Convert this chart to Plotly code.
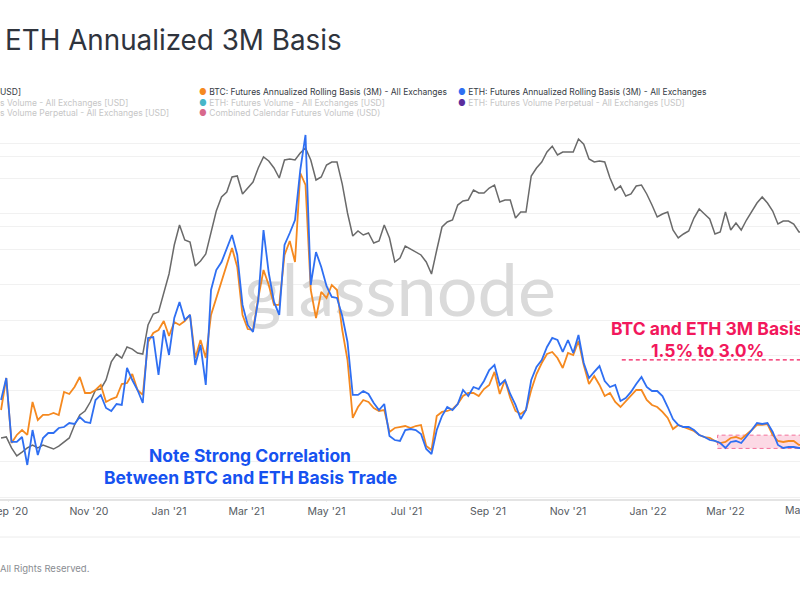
import pandas as pd
import plotly.graph_objects as go

# ---------------- data ----------------
START_DATE = "2020-08-26"
STEP = "4D"

btc_price = [
    11720, 11790, 11060, 10560, 10800, 11060, 11250, 11060, 11250, 11120,
    10990, 11180, 11450, 11720, 12630, 13390, 13700, 14430, 15470, 15560,
    16400, 18200, 19050, 18610, 19840, 19610, 19160, 19050, 22540, 24030,
    24320, 27130, 30290, 35830, 40240, 36890, 36460, 31730, 32660, 34010,
    38630, 43630, 47320, 48710, 53130, 53440, 48150, 49850, 51610, 55970,
    59650, 58290, 55970, 52820, 58630, 58970, 58630, 61050, 62840, 58630,
    52210, 53130, 56950, 57950, 57950, 51000, 43130, 37750, 38860, 37970,
    38410, 36250, 36680, 40240, 37320, 32470, 33230, 35620, 35010, 34410,
    33820, 32470, 30290, 34810, 39770, 40940, 41410, 45160, 46240, 46510,
    49280, 48430, 48430, 49850, 50720, 45970, 46510, 46510, 41890, 43370,
    43370, 53440, 55970, 57950, 61400, 63510, 60350, 61400, 61400, 61400,
    66190, 64260, 58970, 57950, 58290, 57950, 52820, 49280, 50430, 47590,
    48150, 50430, 50720, 48150, 45160, 42140, 42880, 43370, 39080, 37320,
    38190, 38860, 41890, 44130, 42880, 41650, 38190, 38630, 43370, 39080,
    40710, 39080, 41410, 43370, 45700, 47320, 45700, 43630, 40470, 41170,
    41170, 40470, 38630, 38630,
]

btc_basis = [
    5.84, 9.46, 2.11, 3.02, 3.58, 3.02, 6.75, 4.71, 5.28, 5.28,
    5.50, 5.28, 7.88, 7.65, 8.44, 9.57, 7.76, 7.76, 8.10, 8.67,
    6.75, 7.08, 7.31, 8.78, 8.89, 9.91, 8.10, 7.54, 13.53, 14.54,
    14.88, 15.90, 14.20, 15.79, 15.45, 15.90, 16.58, 11.72, 13.75, 11.72,
    16.58, 18.50, 20.42, 22.23, 24.15, 22.00, 16.58, 14.99, 14.88, 18.50,
    21.66, 19.97, 17.71, 17.71, 23.36, 24.94, 22.56, 32.62, 31.27, 19.40,
    16.24, 19.18, 18.50, 19.97, 19.40, 14.88, 11.49, 4.94, 6.18, 6.97,
    6.75, 6.07, 5.73, 5.84, 3.36, 3.81, 3.92, 4.03, 3.81, 4.03,
    4.15, 1.77, 1.32, 5.16, 5.62, 5.73, 5.95, 6.52, 7.42, 7.76,
    7.76, 7.42, 8.21, 8.67, 10.14, 7.65, 9.23, 7.20, 5.73, 5.39,
    5.84, 8.10, 9.91, 11.15, 12.17, 12.40, 11.72, 10.59, 12.28, 12.06,
    13.64, 10.93, 8.78, 9.68, 8.67, 7.42, 7.76, 6.75, 6.18, 6.86,
    7.42, 8.10, 8.10, 6.97, 6.41, 6.18, 5.62, 4.94, 3.69, 4.15,
    3.92, 3.69, 3.47, 3.02, 2.79, 2.68, 2.34, 2.11, 2.23, 2.68,
    2.79, 2.56, 3.02, 3.58, 4.15, 4.15, 4.26, 3.02, 2.34, 2.23,
    2.34, 2.34, 1.89, 1.89,
]

eth_basis = [
    6.97, 9.46, 2.23, 2.23, 2.79, -0.37, 3.58, 0.76, 2.68, 3.24,
    3.24, 3.81, 3.92, 4.37, 4.26, 5.05, 4.49, 4.37, 6.97, 7.54,
    6.07, 5.73, 6.52, 6.41, 10.59, 9.23, 8.10, 6.63, 13.98, 14.09,
    9.80, 14.88, 12.06, 16.24, 18.05, 16.01, 16.58, 10.93, 13.19, 8.67,
    19.40, 21.66, 22.56, 24.15, 25.62, 23.36, 17.71, 15.45, 14.66, 18.27,
    26.18, 21.32, 18.05, 16.58, 24.49, 25.84, 27.31, 32.96, 36.92, 19.97,
    23.69, 22.00, 19.85, 18.61, 18.50, 16.46, 13.53, 7.54, 7.54, 7.99,
    7.65, 6.63, 5.84, 6.52, 2.90, 2.45, 2.34, 3.58, 3.69, 3.58,
    3.13, 1.44, 0.87, 3.58, 5.16, 6.18, 5.84, 6.52, 8.10, 7.42,
    8.44, 8.21, 9.12, 10.36, 10.93, 8.67, 9.23, 7.65, 6.41, 4.82,
    5.84, 9.23, 10.70, 11.49, 12.96, 13.98, 13.75, 12.40, 13.75, 12.28,
    14.32, 11.15, 9.46, 10.14, 10.81, 9.12, 8.44, 8.67, 6.86, 7.20,
    7.88, 8.78, 9.57, 8.44, 7.99, 7.99, 7.42, 6.18, 4.82, 4.15,
    3.92, 3.92, 3.58, 3.02, 2.79, 2.45, 2.34, 2.11, 1.55, 2.23,
    2.34, 2.11, 2.79, 3.58, 4.37, 4.26, 4.37, 3.36, 1.89, 1.55,
    1.66, 1.66, 1.55, 1.55,
]

tick_dates = ["2020-09-01", "2020-11-01", "2021-01-01", "2021-03-01",
              "2021-05-01", "2021-07-01", "2021-09-01", "2021-11-01",
              "2022-01-01", "2022-03-01"]
tick_labels = ["Sep '20", "Nov '20", "Jan '21", "Mar '21", "May '21",
               "Jul '21", "Sep '21", "Nov '21", "Jan '22", "Mar '22"]
extra_tick_label = "May '22"

band_low, band_high = 1.5, 3.0          # highlighted basis band (%)
band_start = "2022-02-23"
dash_line_level = 11.5                  # dashed guide under the pink note
dash_line_start = "2021-12-12"
shape_end = "2022-05-20"

dates = pd.date_range(START_DATE, periods=len(btc_price), freq=STEP)

# ---------------- layout helpers ----------------
W, H = 800, 600
PLOT_TOP, PLOT_BOTTOM = 120, 499
X_RANGE = ["2020-08-25 05:00", "2022-04-26 19:00"]
PRICE_RANGE = [3.9153, 4.8687]   # log10 USD
BASIS_RANGE = [-4.215, 38.61]    # %


def yp(py):
    return (PLOT_BOTTOM - py) / (PLOT_BOTTOM - PLOT_TOP)


def xp(px):
    return px / W


FONT = "Inter, 'Noto Sans', Arial, sans-serif"
ORANGE = "#f5891f"
BLUE = "#2f6ff2"
GRAY = "#6a6a6a"
PINK = "#f2185c"
NOTE_BLUE = "#1652f0"
DARK = "#363b44"
LIGHT = "#c6c6c6"

fig = go.Figure()

# watermark, drawn beneath the lines
wm_date = pd.Timestamp(X_RANGE[0]) + (pd.Timestamp(X_RANGE[1]) - pd.Timestamp(X_RANGE[0])) * 0.5
wm_val = 10 ** (PRICE_RANGE[0] + (PRICE_RANGE[1] - PRICE_RANGE[0]) * yp(298))
fig.add_trace(go.Scatter(
    x=[wm_date], y=[wm_val], mode="text", text=["glassnode"],
    textfont=dict(size=72, color="#dadada", family="Lato, Inter, sans-serif"),
    yaxis="y", hoverinfo="skip", showlegend=False))

fig.add_trace(go.Scatter(
    x=dates, y=btc_price, mode="lines", name="BTC: Price [USD]",
    line=dict(color=GRAY, width=1.5), yaxis="y"))

fig.add_trace(go.Scatter(
    x=dates, y=btc_basis, mode="lines",
    name="BTC: Futures Annualized Rolling Basis (3M) - All Exchanges",
    line=dict(color=ORANGE, width=1.8), yaxis="y2"))

fig.add_trace(go.Scatter(
    x=dates, y=eth_basis, mode="lines",
    name="ETH: Futures Annualized Rolling Basis (3M) - All Exchanges",
    line=dict(color=BLUE, width=1.8), yaxis="y2"))

shapes = [
    dict(type="rect", xref="x", yref="y2", x0=band_start, x1=shape_end,
         y0=band_low, y1=band_high, fillcolor="rgba(246,120,160,0.28)",
         line=dict(color="#f4709a", width=1, dash="4px,3px"), layer="below"),
    dict(type="line", xref="x", yref="y2", x0=dash_line_start, x1=shape_end,
         y0=dash_line_level, y1=dash_line_level,
         line=dict(color=PINK, width=1.2, dash="4px,3px")),
    dict(type="line", xref="paper", yref="paper", x0=0, x1=1,
         y0=yp(537), y1=yp(537), line=dict(color="#ececec", width=1)),
]

ann = []
# title
ann.append(dict(text="ETH Annualized 3M Basis", x=xp(3), y=yp(40),
                xanchor="left", yanchor="middle",
                font=dict(size=27.8, color="#2f343d", family=FONT)))


def legend_item(text, px, py, dot=None, color=DARK):
    if dot:
        t = f'<span style="color:{dot}">●</span> {text}'
    else:
        t = text
    ann.append(dict(text=t, x=xp(px), y=yp(py), xanchor="left",
                    yanchor="middle", font=dict(size=8.5, color=color, family=FONT)))


legend_item("USD]", -2, 92)
legend_item("BTC: Futures Annualized Rolling Basis (3M) - All Exchanges", 197, 92, ORANGE)
legend_item("ETH: Futures Annualized Rolling Basis (3M) - All Exchanges", 456, 92, BLUE)
legend_item("s Volume - All Exchanges [USD]", -2, 103, color=LIGHT)
legend_item("ETH: Futures Volume - All Exchanges [USD]", 197, 103, "#48b6c8", LIGHT)
legend_item("ETH: Futures Volume Perpetual - All Exchanges [USD]", 456, 103, "#5a2d9c", LIGHT)
legend_item("s Volume Perpetual - All Exchanges [USD]", -2, 113, color=LIGHT)
legend_item("Combined Calendar Futures Volume (USD)", 197, 113, "#d8698c", LIGHT)

# notes
for txt, py in [("Note Strong Correlation", 455), ("Between BTC and ETH Basis Trade", 477)]:
    ann.append(dict(text=f"<b>{txt}</b>", x=xp(250), y=yp(py), xanchor="center",
                    yanchor="middle", font=dict(size=17.5, color=NOTE_BLUE, family=FONT)))
for txt, py in [("BTC and ETH 3M Basis", 328), ("1.5% to 3.0%", 350)]:
    ann.append(dict(text=f"<b>{txt}</b>", x=xp(707), y=yp(py), xanchor="center",
                    yanchor="middle", font=dict(size=17.5, color=PINK, family=FONT)))

# partially visible last tick label
ann.append(dict(text=extra_tick_label, x=xp(805), y=yp(510), xanchor="center",
                yanchor="middle", font=dict(size=10.5, color="#555a61", family=FONT)))
# footer
ann.append(dict(text="All Rights Reserved.", x=xp(-2), y=yp(568), xanchor="left",
                yanchor="middle", font=dict(size=9.5, color="#8a8d92", family=FONT)))

for a in ann:
    a.setdefault("xref", "paper")
    a.setdefault("yref", "paper")
    a.setdefault("showarrow", False)

fig.update_layout(
    width=W, height=H,
    margin=dict(l=0, r=0, t=PLOT_TOP, b=H - PLOT_BOTTOM, autoexpand=False),
    paper_bgcolor="white", plot_bgcolor="white",
    showlegend=False, hovermode=False,
    font=dict(family=FONT),
    xaxis=dict(range=X_RANGE, tickvals=tick_dates, ticktext=tick_labels,
               showgrid=False, showline=True, linecolor="#e4e4e4", linewidth=2,
               ticks="outside", ticklen=1, tickcolor="#eeeeee",
               ticklabeloverflow="allow",
               tickfont=dict(size=10.5, color="#555a61", family=FONT),
               zeroline=False, automargin=False),
    yaxis=dict(type="log", range=PRICE_RANGE, tickvals=[40000, 60000],
               showticklabels=False, showgrid=True, gridcolor="#f1f1f1",
               zeroline=False, automargin=False),
    yaxis2=dict(overlaying="y", side="right", range=BASIS_RANGE, tick0=0, dtick=4,
                showticklabels=False, showgrid=True, gridcolor="#f1f1f1",
                zeroline=False, automargin=False),
    shapes=shapes,
    annotations=ann,
)

fig.write_html("out.html", config={"displayModeBar": False},
               post_script="document.body.style.margin='0px';")
